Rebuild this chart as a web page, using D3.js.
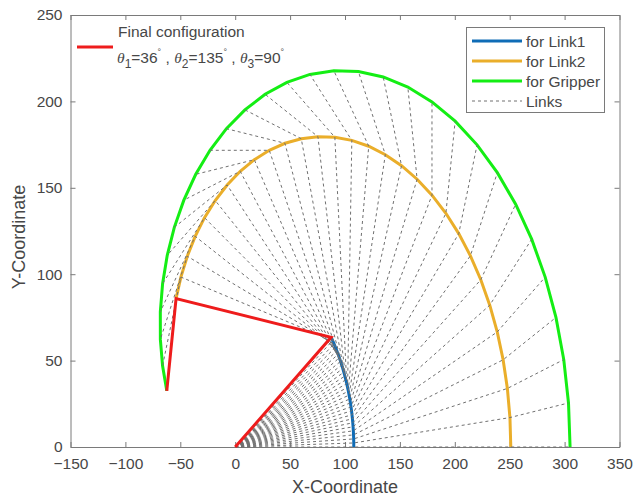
<!DOCTYPE html>
<html>
<head>
<meta charset="utf-8">
<script src="https://cdn.jsdelivr.net/npm/d3@7"></script>
<style>
  body { margin: 0; background: #fff; }
  svg { display: block; font-family: "Liberation Sans", Arial, Helvetica, sans-serif; }
</style>
</head>
<body>
<svg id="chart" width="642" height="499"></svg>
<script>
// ---- data ----
const linkLengths = [108, 143, 54];               // Link1, Link2, Gripper
const finalAngles = [36, 135, 90];               // theta1, theta2, theta3 (deg)
// joint angle trajectory (deg), one entry per step
const theta1 = [0, 1.24, 2.48, 3.72, 4.97, 6.21, 7.45, 8.69, 9.93, 11.17, 12.41, 13.66, 14.90, 16.14, 17.38,
                18.62, 19.86, 21.10, 22.34, 23.59, 24.83, 26.07, 27.31, 28.55, 29.79, 31.03, 32.28, 33.52, 34.76, 36];
const theta2 = [0, 4.66, 9.31, 13.97, 18.62, 23.28, 27.93, 32.59, 37.24, 41.90, 46.55, 51.21, 55.86, 60.52, 65.17,
                69.83, 74.48, 79.14, 83.79, 88.45, 93.10, 97.76, 102.41, 107.07, 111.72, 116.38, 121.03, 125.69, 130.34, 135];
const theta3 = [0, 3.10, 6.21, 9.31, 12.41, 15.52, 18.62, 21.72, 24.83, 27.93, 31.03, 34.14, 37.24, 40.34, 43.45,
                46.55, 49.66, 52.76, 55.86, 58.97, 62.07, 65.17, 68.28, 71.38, 74.48, 77.59, 80.69, 83.79, 86.90, 90];
const xTicks = [-150, -100, -50, 0, 50, 100, 150, 200, 250, 300, 350];
const yTicks = [0, 50, 100, 150, 200, 250];
const legendLabels = ["for Link1", "for Link2", "for Gripper", "Links"];
const colors = { link1: "#0f6cb6", link2: "#eaae2a", gripper: "#14ee14", final: "#ee1c1c", links: "#707070" };

// ---- forward kinematics ----
const rad = d => d * Math.PI / 180;
function chain(a1, a2, a3) {
  const [L1, L2, L3] = linkLengths;
  const p0 = [0, 0];
  const p1 = [L1 * Math.cos(rad(a1)), L1 * Math.sin(rad(a1))];
  const p2 = [p1[0] + L2 * Math.cos(rad(a1 + a2)), p1[1] + L2 * Math.sin(rad(a1 + a2))];
  const p3 = [p2[0] + L3 * Math.cos(rad(a1 + a2 + a3)), p2[1] + L3 * Math.sin(rad(a1 + a2 + a3))];
  return [p0, p1, p2, p3];
}
const steps = theta1.map((t, i) => chain(theta1[i], theta2[i], theta3[i]));
const finalChain = chain(finalAngles[0], finalAngles[1], finalAngles[2]);

// ---- layout ----
const svg = d3.select("#chart");
const mL = 70.5, mR = 619.5, mT = 15, mB = 447;
const x = d3.scaleLinear().domain([-150, 350]).range([mL, mR]);
const y = d3.scaleLinear().domain([0, 250]).range([mB, mT]);
const line = d3.line().x(d => x(d[0])).y(d => y(d[1]));

// axes
const axisColor = "#7a7a7a", textColor = "#474747";
const gx = svg.append("g").attr("transform", `translate(0,${mB})`)
  .call(d3.axisBottom(x).tickValues(xTicks).tickSizeInner(-5).tickSizeOuter(0).tickPadding(10.5));
const gxt = svg.append("g").attr("transform", `translate(0,${mT})`)
  .call(d3.axisTop(x).tickValues(xTicks).tickSizeInner(-5).tickSizeOuter(0).tickFormat(""));
const gy = svg.append("g").attr("transform", `translate(${mL},0)`)
  .call(d3.axisLeft(y).tickValues(yTicks).tickSizeInner(-5).tickSizeOuter(0).tickPadding(8));
const gyr = svg.append("g").attr("transform", `translate(${mR},0)`)
  .call(d3.axisRight(y).tickValues(yTicks).tickSizeInner(-5).tickSizeOuter(0).tickFormat(""));
[gx, gxt, gy, gyr].forEach(g => {
  g.select(".domain").attr("stroke", axisColor);
  g.selectAll(".tick line").attr("stroke", axisColor);
  g.selectAll(".tick text").attr("fill", textColor).attr("font-size", 15.5)
    .attr("font-family", "'Liberation Sans', Arial, sans-serif");
});

// axis labels
svg.append("text").attr("x", (mL + mR) / 2).attr("y", 493).attr("text-anchor", "middle")
  .attr("font-size", 18).attr("fill", textColor).text("X-Coordinate");
svg.append("text").attr("transform", `translate(25,${(mT + mB) / 2 + 6}) rotate(-90)`)
  .attr("text-anchor", "middle").attr("font-size", 18).attr("fill", textColor).text("Y-Coordinate");

// ---- trajectories ----
const plot = svg.append("g");
plot.append("path").datum(steps.map(s => s[1])).attr("d", line)
  .attr("fill", "none").attr("stroke", colors.link1).attr("stroke-width", 3);
plot.append("path").datum(steps.map(s => s[2])).attr("d", line)
  .attr("fill", "none").attr("stroke", colors.link2).attr("stroke-width", 3);
plot.append("path").datum(steps.map(s => s[3])).attr("d", line)
  .attr("fill", "none").attr("stroke", colors.gripper).attr("stroke-width", 3);

// links (dashed)
plot.selectAll("path.link").data(steps).join("path").attr("class", "link")
  .attr("d", line).attr("fill", "none").attr("stroke", colors.links)
  .attr("stroke-width", 1).attr("stroke-dasharray", "3,3");

// final configuration
plot.append("path").datum(finalChain).attr("d", line)
  .attr("fill", "none").attr("stroke", colors.final).attr("stroke-width", 3)
  .attr("stroke-linejoin", "miter");

// ---- legend: final configuration ----
const lg1 = svg.append("g");
lg1.append("line").attr("x1", 77).attr("x2", 113).attr("y1", 47).attr("y2", 47)
  .attr("stroke", colors.final).attr("stroke-width", 3);
lg1.append("text").attr("x", 118).attr("y", 37).attr("font-size", 15.5).attr("fill", textColor)
  .text("Final configuration");
const t2 = lg1.append("text").attr("x", 117).attr("y", 63).attr("font-size", 15.5).attr("fill", textColor);
finalAngles.forEach((a, i) => {
  t2.append("tspan").attr("font-family", "'Liberation Serif', 'DejaVu Serif', serif")
    .attr("font-style", "italic").text("θ");
  t2.append("tspan").attr("font-size", 12).attr("dy", 5).text(String(i + 1));
  t2.append("tspan").attr("dy", -5).text("=" + a);
  t2.append("tspan").attr("font-size", 9).attr("dy", -8).text("°");
  t2.append("tspan").attr("dy", 8).text(i < finalAngles.length - 1 ? " , " : "");
});

// ---- legend: trajectories ----
const lg2 = svg.append("g");
lg2.append("rect").attr("x", 466.5).attr("y", 27.5).attr("width", 138).attr("height", 85)
  .attr("fill", "#fff").attr("stroke", axisColor).attr("stroke-width", 1);
const legendStyles = [
  { c: colors.link1, w: 3, d: null },
  { c: colors.link2, w: 3, d: null },
  { c: colors.gripper, w: 3, d: null },
  { c: colors.links, w: 1, d: "3,3" }
];
legendLabels.forEach((lab, i) => {
  const yy = 41 + i * 20;
  const ln = lg2.append("line").attr("x1", 472).attr("x2", 522).attr("y1", yy).attr("y2", yy)
    .attr("stroke", legendStyles[i].c).attr("stroke-width", legendStyles[i].w);
  if (legendStyles[i].d) ln.attr("stroke-dasharray", legendStyles[i].d);
  lg2.append("text").attr("x", 526).attr("y", yy + 5.5).attr("font-size", 15.5).attr("fill", textColor).text(lab);
});
</script>
</body>
</html>
